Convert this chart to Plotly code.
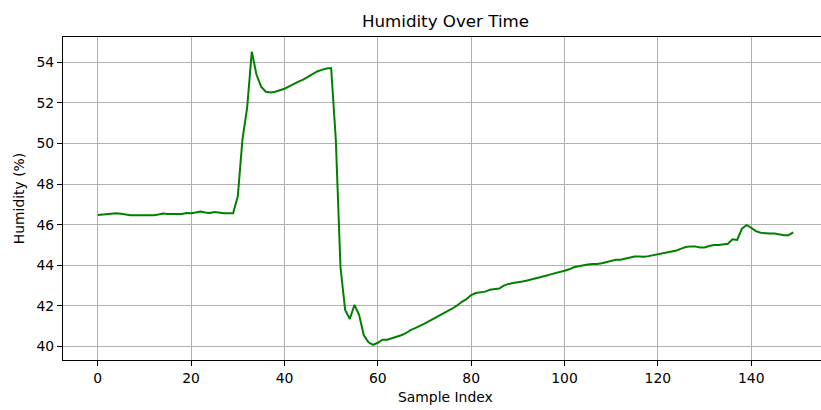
import plotly.graph_objects as go

sample_index = list(range(150))
humidity = [
    46.48, 46.50, 46.50, 46.53, 46.56, 46.54, 46.50, 46.47, 46.46, 46.46,
    46.46, 46.46, 46.46, 46.50, 46.55, 46.53, 46.52, 46.52, 46.53, 46.57,
    46.56, 46.60, 46.65, 46.60, 46.58, 46.62, 46.58, 46.56, 46.56, 46.56,
    47.40, 50.20, 51.75, 54.53, 53.40, 52.80, 52.55, 52.52, 52.55, 52.62,
    52.70, 52.82, 52.95, 53.05, 53.15, 53.28, 53.42, 53.55, 53.63, 53.70,
    53.72, 50.20, 43.90, 41.80, 41.35, 42.05, 41.55, 40.55, 40.20, 40.08,
    40.18, 40.33, 40.33, 40.40, 40.47, 40.55, 40.65, 40.80, 40.90, 41.00,
    41.12, 41.25, 41.37, 41.50, 41.62, 41.73, 41.87, 42.02, 42.20, 42.33,
    42.53, 42.63, 42.67, 42.70, 42.79, 42.82, 42.85, 43.00, 43.08, 43.12,
    43.15, 43.20, 43.25, 43.30, 43.37, 43.42, 43.48, 43.55, 43.60, 43.66,
    43.73, 43.80, 43.90, 43.95, 44.00, 44.04, 44.06, 44.06, 44.10, 44.15,
    44.22, 44.27, 44.27, 44.32, 44.38, 44.43, 44.43, 44.42, 44.45, 44.50,
    44.55, 44.60, 44.65, 44.68, 44.73, 44.82, 44.90, 44.93, 44.93, 44.88,
    44.88, 44.95, 45.00, 45.00, 45.02, 45.06, 45.28, 45.25, 45.80, 45.98,
    45.85, 45.68, 45.60, 45.57, 45.57, 45.57, 45.52, 45.48, 45.48, 45.62,
]

x_ticks = [0, 20, 40, 60, 80, 100, 120, 140]
y_ticks = [40, 42, 44, 46, 48, 50, 52, 54]

FONT = "DejaVu Sans"
TICK_SIZE = 13.9
TITLE_SIZE = 16.7

fig = go.Figure(
    go.Scatter(
        x=sample_index,
        y=humidity,
        mode="lines",
        line=dict(color="#008000", width=2),
        hoverinfo="skip",
    )
)

fig.update_layout(
    width=821,
    height=410,
    margin=dict(l=63, r=0, t=37, b=50),
    paper_bgcolor="white",
    plot_bgcolor="white",
    showlegend=False,
    font=dict(family=FONT, color="#000000", size=TICK_SIZE),
    title=dict(
        text="Humidity Over Time",
        x=445.5 / 821,
        xref="container",
        xanchor="center",
        y=1 - 21 / 410,
        yanchor="middle",
        font=dict(family=FONT, size=TITLE_SIZE, color="#000000"),
    ),
    annotations=[
        dict(
            text="Sample Index",
            xref="paper",
            yref="paper",
            x=(445.2 - 63) / (821 - 63),
            y=-(397.3 - 360) / (410 - 87),
            xanchor="center",
            yanchor="middle",
            showarrow=False,
            font=dict(family=FONT, size=TICK_SIZE, color="#000000"),
        )
    ],
)

fig.update_xaxes(
    range=[-7.45, 154.95],
    tickvals=x_ticks,
    ticktext=[str(v) for v in x_ticks],
    showgrid=True,
    gridcolor="#b0b0b0",
    gridwidth=1,
    zeroline=False,
    showline=True,
    linecolor="#000000",
    linewidth=1,
    mirror=True,
    ticks="outside",
    ticklen=5,
    tickwidth=1,
    tickcolor="#000000",
    tickfont=dict(family=FONT, size=TICK_SIZE, color="#000000"),
)

fig.update_yaxes(
    range=[39.33, 55.25],
    tickvals=y_ticks,
    ticktext=[str(v) for v in y_ticks],
    showgrid=True,
    gridcolor="#b0b0b0",
    gridwidth=1,
    zeroline=False,
    showline=True,
    linecolor="#000000",
    linewidth=1,
    mirror=False,
    ticks="outside",
    ticklen=5,
    tickwidth=1,
    tickcolor="#000000",
    tickfont=dict(family=FONT, size=TICK_SIZE, color="#000000"),
    title=dict(text="Humidity (%)", font=dict(family=FONT, size=TICK_SIZE, color="#000000"), standoff=8),
)

fig.write_html("out.html")
